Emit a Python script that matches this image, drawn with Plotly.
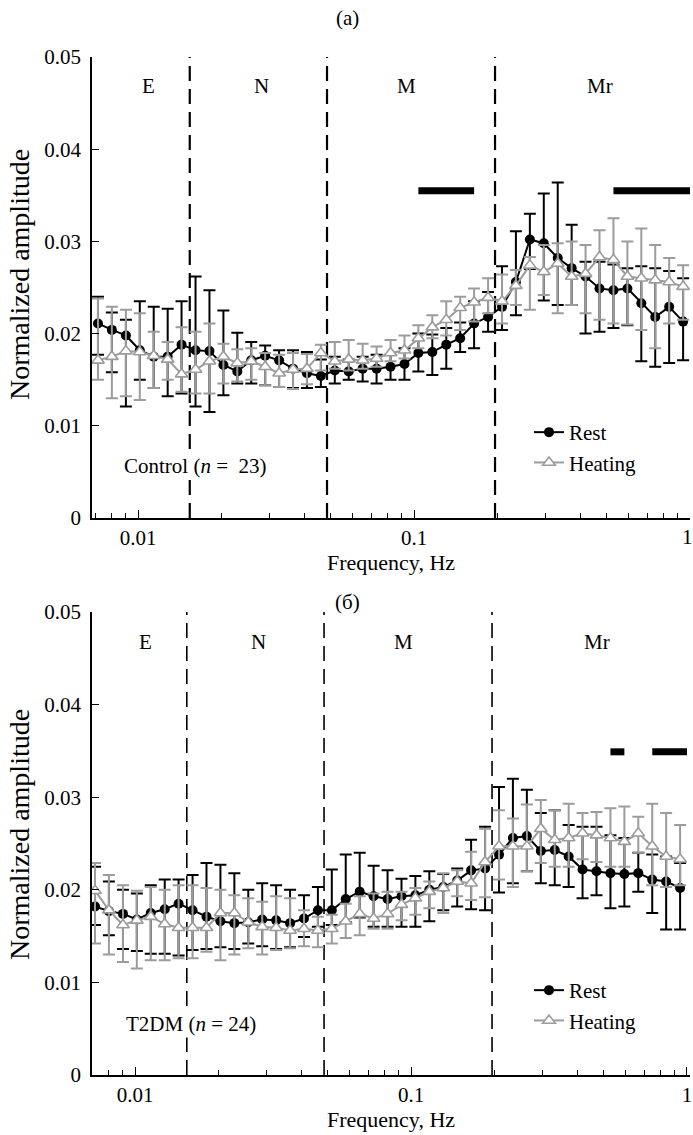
import math
import plotly.graph_objects as go

# ---------------- data ----------------
FREQ = [0.00716, 0.00804, 0.00904, 0.01015, 0.0114, 0.01281, 0.01438, 0.01616, 0.01815, 0.02039,
        0.0229, 0.02572, 0.02889, 0.03245, 0.03645, 0.04094, 0.04598, 0.05164, 0.058, 0.06516,
        0.07318, 0.08222, 0.09236, 0.1037, 0.1165, 0.1309, 0.147, 0.1651, 0.1855, 0.2084,
        0.234, 0.2629, 0.2953, 0.3317, 0.3726, 0.4184, 0.47, 0.528, 0.5931, 0.6661,
        0.7482, 0.8404, 0.9441]

# Panel (a): Control
A_REST = [0.0211, 0.0204, 0.0198, 0.0182, 0.0175, 0.0175, 0.0188, 0.0182, 0.0181, 0.0166,
          0.0159, 0.0171, 0.0176, 0.0171, 0.0162, 0.0157, 0.0154, 0.0160, 0.0159, 0.0162,
          0.0162, 0.0164, 0.0167, 0.0179, 0.0180, 0.0188, 0.0195, 0.0211, 0.0218, 0.0229,
          0.0256, 0.0302, 0.0298, 0.0282, 0.0271, 0.0262, 0.0249, 0.0247, 0.0249, 0.0233,
          0.0218, 0.0229, 0.0213]
A_REST_HI = [0.0240, 0.0223, 0.0215, 0.0235, 0.0229, 0.0227, 0.0235, 0.0262, 0.0247, 0.0225,
             0.0201, 0.0191, 0.0187, 0.0182, 0.0182, 0.0180, 0.0172, 0.0175, 0.0172, 0.0175,
             0.0177, 0.0177, 0.0184, 0.0200, 0.0199, 0.0206, 0.0212, 0.0235, 0.0245, 0.0273,
             0.0311, 0.0330, 0.0352, 0.0364, 0.0318, 0.0278, 0.0278, 0.0275, 0.0271, 0.0273,
             0.0271, 0.0268, 0.0260]
A_REST_LO = [0.0177, 0.0158, 0.0121, 0.0150, 0.0141, 0.0132, 0.0135, 0.0121, 0.0115, 0.0133,
             0.0146, 0.0146, 0.0144, 0.0142, 0.0141, 0.0141, 0.0142, 0.0146, 0.0150, 0.0148,
             0.0146, 0.0150, 0.0150, 0.0159, 0.0155, 0.0162, 0.0180, 0.0184, 0.0202, 0.0204,
             0.0220, 0.0270, 0.0236, 0.0231, 0.0231, 0.0200, 0.0202, 0.0206, 0.0209, 0.0170,
             0.0164, 0.0168, 0.0171]
A_HEAT = [0.0171, 0.0175, 0.0181, 0.0180, 0.0176, 0.0172, 0.0156, 0.0161, 0.0170, 0.0175,
          0.0168, 0.0170, 0.0164, 0.0157, 0.0161, 0.0162, 0.0179, 0.0170, 0.0172, 0.0171,
          0.0173, 0.0179, 0.0182, 0.0195, 0.0207, 0.0215, 0.0228, 0.0234, 0.0239, 0.0235,
          0.0252, 0.0274, 0.0267, 0.0276, 0.0262, 0.0265, 0.0283, 0.0280, 0.0262, 0.0260,
          0.0258, 0.0256, 0.0251]
A_HEAT_HI = [0.0238, 0.0229, 0.0226, 0.0222, 0.0202, 0.0191, 0.0207, 0.0202, 0.0211, 0.0189,
             0.0183, 0.0184, 0.0179, 0.0177, 0.0179, 0.0178, 0.0188, 0.0191, 0.0193, 0.0189,
             0.0186, 0.0193, 0.0198, 0.0209, 0.0220, 0.0235, 0.0240, 0.0249, 0.0260, 0.0264,
             0.0269, 0.0283, 0.0296, 0.0298, 0.0300, 0.0296, 0.0312, 0.0325, 0.0300, 0.0314,
             0.0296, 0.0282, 0.0274]
A_HEAT_LO = [0.0150, 0.0130, 0.0132, 0.0128, 0.0141, 0.0150, 0.0137, 0.0135, 0.0135, 0.0146,
             0.0148, 0.0150, 0.0144, 0.0142, 0.0140, 0.0145, 0.0160, 0.0162, 0.0160, 0.0162,
             0.0164, 0.0170, 0.0173, 0.0184, 0.0195, 0.0198, 0.0204, 0.0213, 0.0222, 0.0211,
             0.0231, 0.0226, 0.0242, 0.0222, 0.0231, 0.0222, 0.0215, 0.0211, 0.0210, 0.0204,
             0.0184, 0.0211, 0.0215]

# Panel (б): T2DM
B_REST = [0.0182, 0.0177, 0.0174, 0.0168, 0.0175, 0.0179, 0.0185, 0.0178, 0.0171, 0.0166,
          0.0164, 0.0165, 0.0168, 0.0167, 0.0164, 0.0169, 0.0178, 0.0178, 0.0190, 0.0198,
          0.0193, 0.0190, 0.0193, 0.0194, 0.0200, 0.0203, 0.0210, 0.0221, 0.0223, 0.0238,
          0.0256, 0.0258, 0.0242, 0.0243, 0.0236, 0.0222, 0.0220, 0.0218, 0.0217, 0.0218,
          0.0211, 0.0209, 0.0202]
B_REST_HI = [0.0225, 0.0209, 0.0200, 0.0196, 0.0205, 0.0211, 0.0211, 0.0216, 0.0229, 0.0227,
             0.0218, 0.0200, 0.0207, 0.0205, 0.0200, 0.0194, 0.0203, 0.0222, 0.0238, 0.0240,
             0.0226, 0.0221, 0.0212, 0.0215, 0.0220, 0.0217, 0.0223, 0.0254, 0.0268, 0.0311,
             0.0320, 0.0308, 0.0283, 0.0286, 0.0270, 0.0268, 0.0268, 0.0259, 0.0256, 0.0240,
             0.0238, 0.0236, 0.0229]
B_REST_LO = [0.0162, 0.0151, 0.0136, 0.0134, 0.0131, 0.0131, 0.0129, 0.0135, 0.0136, 0.0138,
             0.0136, 0.0142, 0.0139, 0.0136, 0.0138, 0.0149, 0.0160, 0.0162, 0.0165, 0.0170,
             0.0160, 0.0160, 0.0160, 0.0160, 0.0166, 0.0178, 0.0182, 0.0179, 0.0178, 0.0197,
             0.0207, 0.0220, 0.0207, 0.0205, 0.0203, 0.0191, 0.0194, 0.0180, 0.0182, 0.0198,
             0.0175, 0.0157, 0.0157]
B_HEAT = [0.0199, 0.0178, 0.0162, 0.0167, 0.0171, 0.0163, 0.0159, 0.0159, 0.0159, 0.0175,
          0.0175, 0.0165, 0.0160, 0.0159, 0.0156, 0.0158, 0.0156, 0.0158, 0.0166, 0.0174,
          0.0169, 0.0174, 0.0184, 0.0191, 0.0198, 0.0202, 0.0209, 0.0207, 0.0230, 0.0247,
          0.0247, 0.0247, 0.0266, 0.0254, 0.0256, 0.0261, 0.0259, 0.0256, 0.0252, 0.0261,
          0.0247, 0.0236, 0.0233]
B_HEAT_HI = [0.0229, 0.0216, 0.0205, 0.0199, 0.0203, 0.0200, 0.0205, 0.0205, 0.0202, 0.0200,
             0.0194, 0.0191, 0.0187, 0.0193, 0.0191, 0.0178, 0.0171, 0.0173, 0.0185, 0.0193,
             0.0196, 0.0198, 0.0198, 0.0202, 0.0209, 0.0218, 0.0221, 0.0241, 0.0266, 0.0286,
             0.0277, 0.0292, 0.0297, 0.0286, 0.0293, 0.0283, 0.0284, 0.0288, 0.0290, 0.0279,
             0.0293, 0.0283, 0.0270]
B_HEAT_LO = [0.0142, 0.0130, 0.0122, 0.0115, 0.0124, 0.0124, 0.0126, 0.0126, 0.0133, 0.0124,
             0.0130, 0.0137, 0.0130, 0.0135, 0.0137, 0.0139, 0.0138, 0.0142, 0.0148, 0.0151,
             0.0158, 0.0158, 0.0167, 0.0173, 0.0180, 0.0175, 0.0193, 0.0189, 0.0192, 0.0211,
             0.0203, 0.0220, 0.0229, 0.0225, 0.0225, 0.0233, 0.0230, 0.0225, 0.0225, 0.0240,
             0.0205, 0.0203, 0.0205]

BAND_EDGES = [0.0154, 0.0484, 0.1966]          # dashed boundaries, Hz
BAND_NAMES = ["E", "N", "M", "Mr"]
BAND_LABEL_X = [0.0109, 0.0281, 0.0943, 0.472]  # label centres, Hz
SIG_A = [(0.1037, 0.1651), (0.528, 1.0)]        # significant ranges, panel (a)
SIG_B = [(0.528, 0.5931), (0.7482, 1.0)]        # significant ranges, panel (б)
SIG_Y = [0.0355, 0.0349]
Y_TICKS = [0, 0.01, 0.02, 0.03, 0.04, 0.05]
Y_TICKTEXT = ["0", "0.01", "0.02", "0.03", "0.04", "0.05"]
X_TICKS = [0.01, 0.1, 1]
X_TICKTEXT = ["0.01", "0.1", "1"]
X_MINOR = [0.007, 0.008, 0.009, 0.02, 0.03, 0.04, 0.05, 0.06, 0.07, 0.08, 0.09,
           0.2, 0.3, 0.4, 0.5, 0.6, 0.7, 0.8, 0.9]

# ---------------- style ----------------
FONT = "Liberation Serif"
GREY = "#9c9c9c"
W, H = 693, 1135
ML, MR, MT, MB = 92, 3, 57, 60
PW, PH = W - ML - MR, H - MT - MB


def px_y(ypx):
    return (H - MB - ypx) / PH


def px_x(xpx):
    return (xpx - ML) / PW


fig = go.Figure()


def add_panel(xa, ya, leg, rest, rhi, rlo, heat, hhi, hlo, sig, sigy, dashw):
    for e in BAND_EDGES:
        fig.add_trace(go.Scatter(x=[e, e], y=[0, 0.05], mode="lines", xaxis=xa, yaxis=ya,
                                 line=dict(color="black", width=dashw, dash="15px,8px"),
                                 showlegend=False, hoverinfo="skip"))
    for (a, b) in sig:
        fig.add_trace(go.Scatter(x=[a, b], y=[sigy, sigy], mode="lines", xaxis=xa, yaxis=ya,
                                 line=dict(color="black", width=7),
                                 showlegend=False, hoverinfo="skip"))
    fig.add_trace(go.Scatter(
        x=FREQ, y=rest, name="Rest", mode="lines+markers", xaxis=xa, yaxis=ya,
        legend=leg, legendgroup=leg + "r",
        line=dict(color="black", width=2),
        marker=dict(symbol="circle", size=10, color="black"),
        error_y=dict(type="data", symmetric=False,
                     array=[h - m for h, m in zip(rhi, rest)],
                     arrayminus=[m - l for m, l in zip(rest, rlo)],
                     color="black", thickness=2, width=6)))
    fig.add_trace(go.Scatter(
        x=FREQ, y=heat, name="Heating", mode="lines+markers", xaxis=xa, yaxis=ya,
        legend=leg, legendgroup=leg + "h",
        line=dict(color=GREY, width=2),
        marker=dict(symbol="triangle-up", size=11, color="white",
                    line=dict(color=GREY, width=1.6)),
        error_y=dict(type="data", symmetric=False,
                     array=[h - m for h, m in zip(hhi, heat)],
                     arrayminus=[m - l for m, l in zip(heat, hlo)],
                     color=GREY, thickness=2, width=6)))


add_panel("x", "y", "legend", A_REST, A_REST_HI, A_REST_LO, A_HEAT, A_HEAT_HI, A_HEAT_LO,
          SIG_A, SIG_Y[0], 2.2)
add_panel("x2", "y2", "legend2", B_REST, B_REST_HI, B_REST_LO, B_HEAT, B_HEAT_HI, B_HEAT_LO,
          SIG_B, SIG_Y[1], 1.6)

tickfont = dict(family=FONT, size=21, color="black")
xcommon = dict(type="log", tickvals=X_TICKS, ticks="inside", ticklen=8,
               tickwidth=1.2, tickcolor="black", showline=True, linecolor="black", linewidth=1.5,
               showgrid=False, zeroline=False, tickfont=tickfont, ticklabeloverflow="allow",
               automargin=False,
               minor=dict(tickvals=X_MINOR, ticks="inside", ticklen=5, tickwidth=1,
                          tickcolor="black", showgrid=False),
               title=dict(text="Frequency, Hz", font=dict(family=FONT, size=22, color="black"),
                          standoff=2))
ycommon = dict(range=[0, 0.05], tickvals=Y_TICKS, ticktext=Y_TICKTEXT, ticks="inside",
               ticklen=7, tickwidth=1.2, tickcolor="black", showline=True, linecolor="black",
               linewidth=1.5, showgrid=False, zeroline=False, tickfont=tickfont,
               ticklabelstandoff=5, automargin=False)

top_dom = [px_y(518), 1.0]
bot_dom = [0.0, px_y(612)]

# top axis: the last label ("1") sits at the page edge, drawn separately a few px inward
top_ticktext = X_TICKTEXT[:-1] + [""]

legfont = dict(family=FONT, size=21, color="black")
fig.update_layout(
    width=W, height=H, margin=dict(l=ML, r=MR, t=MT, b=MB, autoexpand=False),
    paper_bgcolor="white", plot_bgcolor="white",
    font=dict(family=FONT, size=19, color="black"),
    xaxis=dict(anchor="y", range=[-2.1667, 0.0], ticktext=top_ticktext, **xcommon),
    yaxis=dict(anchor="x", domain=top_dom, **ycommon),
    xaxis2=dict(anchor="y2", range=[-2.156, 0.0109], ticktext=X_TICKTEXT, **xcommon),
    yaxis2=dict(anchor="x2", domain=bot_dom, **ycommon),
    legend=dict(x=px_x(529), y=px_y(412), xanchor="left", yanchor="top",
                bgcolor="rgba(0,0,0,0)", font=legfont,
                traceorder="grouped", tracegroupgap=0, itemwidth=30),
    legend2=dict(x=px_x(529), y=px_y(970), xanchor="left", yanchor="top",
                 bgcolor="rgba(0,0,0,0)", font=legfont,
                 traceorder="grouped", tracegroupgap=0, itemwidth=30),
    showlegend=True,
)

ann = []
ann.append(dict(text="(a)", xref="paper", yref="paper", x=px_x(347), y=px_y(18),
                showarrow=False, font=dict(family=FONT, size=21)))
ann.append(dict(text="(б)", xref="paper", yref="paper", x=px_x(347), y=px_y(602),
                showarrow=False, font=dict(family=FONT, size=21)))
ann.append(dict(text=X_TICKTEXT[-1], xref="x", yref="paper", x=math.log10(X_TICKS[-1]),
                y=px_y(537), xshift=-3, showarrow=False, font=tickfont))
for yc in (275, 835):
    ann.append(dict(text="Normalized amplitude", xref="paper", yref="paper",
                    x=px_x(19), y=px_y(yc), textangle=-90, showarrow=False,
                    font=dict(family=FONT, size=28, color="black")))
for xr, yr, yv in (("x", "y", 0.0469), ("x2", "y2", 0.0468)):
    for nm, xv in zip(BAND_NAMES, BAND_LABEL_X):
        ann.append(dict(text=nm, xref=xr, yref=yr, x=math.log10(xv), y=yv,
                        showarrow=False, font=dict(family=FONT, size=21)))
ann.append(dict(text="Control (<i>n</i> =  23)", xref="x", yref="y", x=math.log10(0.0161),
                y=0.0056, showarrow=False, bgcolor="white", font=dict(family=FONT, size=21)))
ann.append(dict(text="T2DM (<i>n</i> = 24)", xref="x2", yref="y2", x=math.log10(0.01596),
                y=0.0055, showarrow=False, bgcolor="white", font=dict(family=FONT, size=21)))
for a in ann:
    a["xanchor"] = "center"
    a["yanchor"] = "middle"
fig.update_layout(annotations=ann)

fig.write_html("out.html", config={"displayModeBar": False},
               post_script="document.body.style.margin='0px';")
